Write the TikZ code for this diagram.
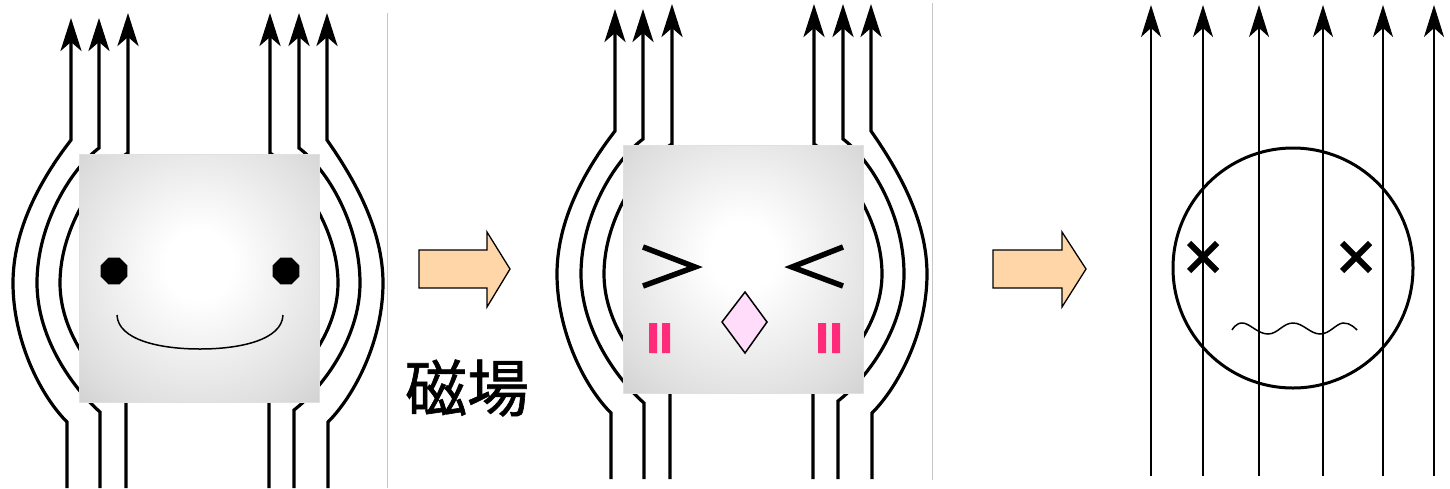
\documentclass[tikz,border=0pt]{standalone}
\usepackage{fontspec}
\newfontfamily\jpfont[FakeBold=1]{Noto Sans CJK JP}
\usetikzlibrary{arrows.meta,shapes.geometric}

\definecolor{peach}{RGB}{255,214,168}
\definecolor{blush}{RGB}{255,42,122}
\definecolor{nosepink}{RGB}{255,220,250}
\pgfdeclareradialshading{glow}{\pgfpoint{0bp}{3bp}}{color(0bp)=(white); color(7bp)=(white); color(30bp)=(black!13); color(50bp)=(black!27); color(72bp)=(black!58)}

\begin{document}
\begin{tikzpicture}[x=1pt,y=-1pt,
    field/.style={line width=3.2pt,-{Stealth[length=33pt,width=21pt,inset=9pt]}},
    thinfield/.style={line width=1.6pt,-{Stealth[length=32pt,width=20pt,inset=9pt]}},
    blockarrow/.style={fill=peach,line width=1.3pt,line join=miter},
    eye/.style={regular polygon,regular polygon sides=8,fill,minimum size=29pt,inner sep=0pt}]
    \useasboundingbox (0,0) rectangle (1450,488);

    % field lines bending round the box, then the box itself
    \foreach \dx/\dy in {0/0, 544/-9} {
      \begin{scope}[shift={(\dx,\dy)}]
        \draw[field] (67,488) -- (67,422) .. controls (40,395) and (13,340) .. (13,283) .. controls (13,230) and (40,180) .. (71,140) -- (71,18); % outer left
        \draw[field] (100,488) -- (100,412) .. controls (75,390) and (37,340) .. (37,283) .. controls (37,225) and (70,170) .. (99,148) -- (99,18); % middle left
        \draw[field] (126,488) -- (126,402) .. controls (105,385) and (60,340) .. (60,283) .. controls (60,225) and (100,170) .. (128,153) -- (128,13); % inner left
        \draw[field] (269,488) -- (269,402) .. controls (290,385) and (338,340) .. (338,283) .. controls (338,225) and (295,170) .. (270,153) -- (270,13); % inner right
        \draw[field] (294,488) -- (294,410) .. controls (320,390) and (360,340) .. (360,283) .. controls (360,225) and (328,170) .. (299,148) -- (299,13); % middle right
        \draw[field] (328,488) -- (328,422) .. controls (355,395) and (383,340) .. (383,283) .. controls (383,230) and (355,180) .. (327,140) -- (327,13); % outer right
        \shade[shading=glow,draw=black!12] (79,154) rectangle (319,402); % box
      \end{scope}
    }

    % happy face
    \node[eye] (eyeL) at (114,271) {};
    \node[eye] (eyeR) at (286,271) {};
    \draw[line width=1.5pt] (117,315) .. controls (118,340) and (160,349) .. (200,349) .. controls (240,349) and (282,340) .. (283,315); % smile

    % squinting face
    \draw[line width=5.5pt,line join=miter] (643,247) -- (695,267) -- (643,286); % >
    \draw[line width=5.5pt,line join=miter] (843,247) -- (792,267) -- (843,286); % <
    \draw[fill=nosepink,line width=1.5pt] (745,292) -- (767,322) -- (745,353) -- (722,322) -- cycle; % nose
    \fill[blush] (649,323) rectangle (657,353) (662,323) rectangle (670,353);
    \fill[blush] (818,323) rectangle (826,353) (832,323) rectangle (840,353);

    % straight field lines and the knocked out face
    \foreach \x in {1151,1203,1259,1323,1383,1434}
      \draw[thinfield] (\x,476) -- (\x,5);
    \draw[line width=3pt] (1293,268) circle[radius=120];
    \draw[line width=6pt] (1189,243) -- (1217,271) (1189,271) -- (1217,243); % x eye
    \draw[line width=6pt] (1342,243) -- (1370,271) (1342,271) -- (1370,243); % x eye
    \draw[line width=1.5pt] plot[smooth,tension=0.7] coordinates {(1232,330) (1243,323) (1268,334) (1293,323) (1320,334) (1343,323) (1357,330)}; % mouth

    % separators and arrows
    \draw[black!22,line width=1pt] (387,13) -- (387,488);
    \draw[black!22,line width=1pt] (932,3) -- (932,480);
    \draw[blockarrow] (419,250) -- (487,250) -- (487,232) -- (510,269) -- (487,307) -- (487,288) -- (419,288) -- cycle;
    \draw[blockarrow] (993,250) -- (1062,250) -- (1062,232) -- (1086,269) -- (1062,307) -- (1062,288) -- (993,288) -- cycle;
    \node[font=\jpfont\fontsize{62}{62}\selectfont,inner sep=0pt] (jiba) at (467,388) {磁場};
\end{tikzpicture}
\end{document}
